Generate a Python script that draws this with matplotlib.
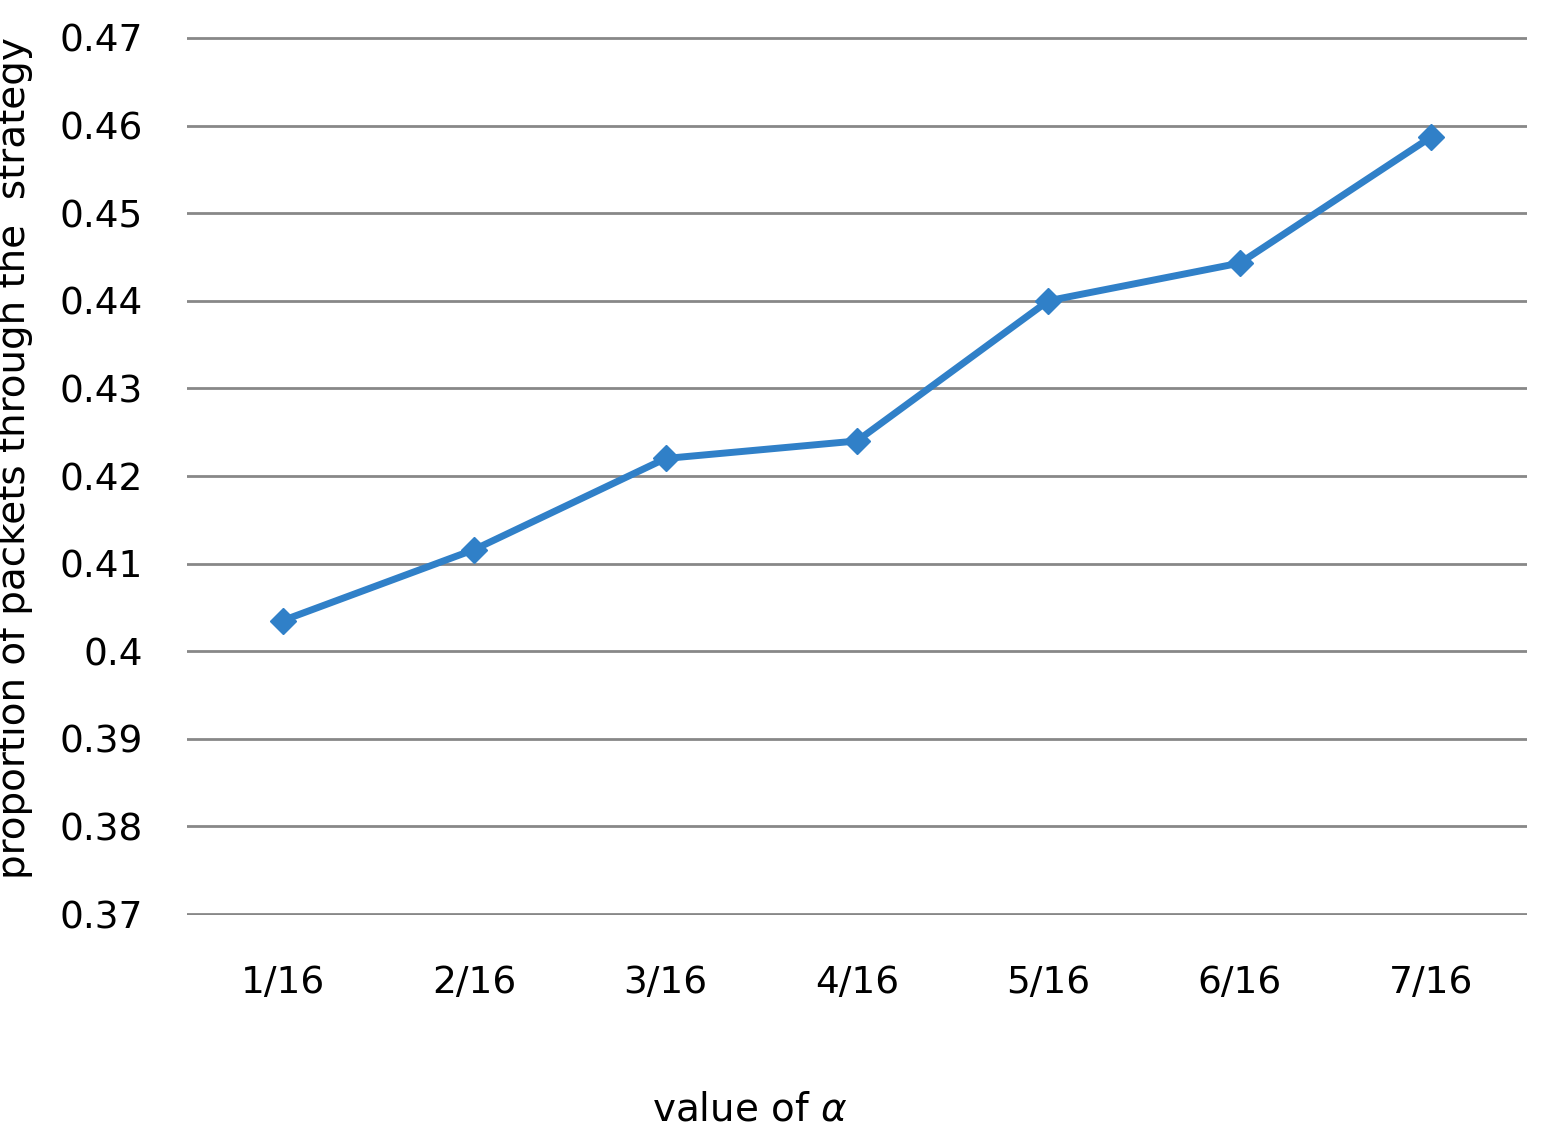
import matplotlib
matplotlib.use("Agg")
import matplotlib.pyplot as plt

categories = ["1/16", "2/16", "3/16", "4/16", "5/16", "6/16", "7/16"]
values = [0.4035, 0.4116, 0.4220, 0.4240, 0.4400, 0.4443, 0.4587]
yticks = [0.37, 0.38, 0.39, 0.40, 0.41, 0.42, 0.43, 0.44, 0.45, 0.46, 0.47]
ytick_labels = ["0.37", "0.38", "0.39", "0.4", "0.41", "0.42", "0.43", "0.44", "0.45", "0.46", "0.47"]

fig = plt.figure(figsize=(15.45, 11.24), dpi=100)
ax = fig.add_axes([187/1545, 1-915/1124, (1527-187)/1545, (915-37)/1124])
x = list(range(len(categories)))
ax.plot(x, values, color="#3080C8", lw=5, marker="D", ms=13, zorder=3)
ax.set_xlim(-0.5, len(categories)-0.5)
ax.set_ylim(0.3699, 0.4701)
ax.set_yticks(yticks)
ax.set_yticklabels(ytick_labels)
ax.set_xticks(x)
ax.set_xticklabels(categories)
ax.tick_params(length=0, labelsize=27, pad=36)
ax.tick_params(axis="y", pad=32)
for s in ax.spines.values():
    s.set_visible(False)
ax.grid(axis="y", color="#888888", lw=2)
ax.set_axisbelow(True)
ax.set_xlabel(r"value of $\alpha$", fontsize=28, labelpad=50)
ax.xaxis.set_label_coords(0.42, -0.2)
ax.set_ylabel("proportion of packets through the  strategy", fontsize=28, labelpad=14)
ax.yaxis.set_label_coords(-0.115, 0.52)
fig.savefig("out.png", dpi=100)
